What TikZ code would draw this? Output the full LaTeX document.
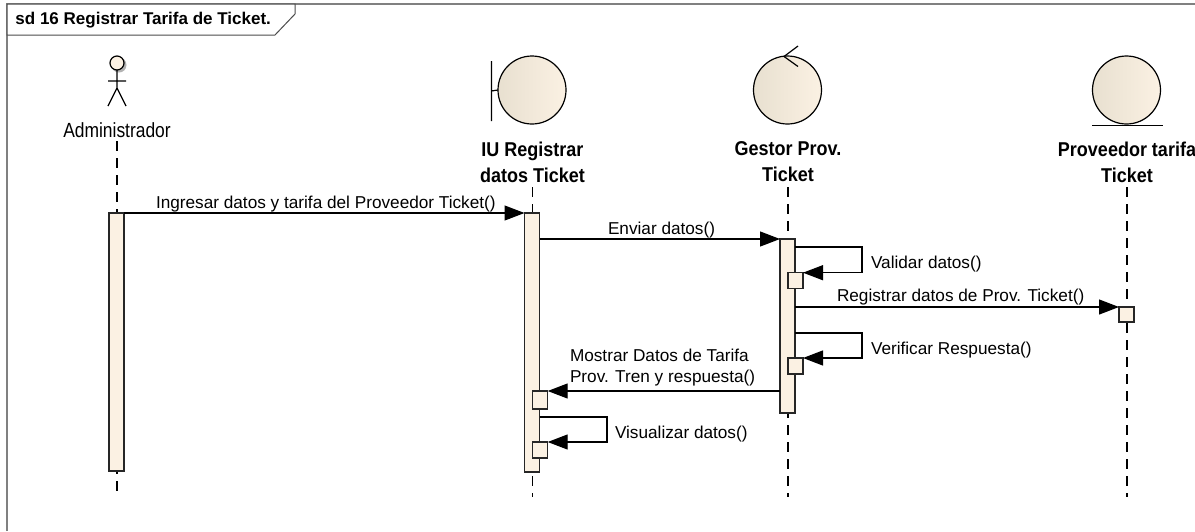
\documentclass[tikz,border=0pt]{standalone}
\usepackage{fontspec}
\setmainfont{Liberation Sans}
\usetikzlibrary{arrows.meta}
\definecolor{act}{HTML}{FBF1E3}
\definecolor{dark}{HTML}{E8E0D0}
\definecolor{framec}{HTML}{808080}
\tikzset{
 x=1pt,y=-1pt,
 every node/.style={inner sep=0pt,outer sep=0pt},
 msgline/.style={line width=1.2pt,black,-{Triangle[length=20pt,width=15pt]},shorten >=0pt},
 plainline/.style={line width=1.2pt,black},
 lifeline/.style={line width=1.2pt,black,dash pattern=on 10pt off 7pt},
 activation/.style={draw=black!85,line width=1.3pt,fill=act,anchor=north west,minimum width=15pt},
 ball/.style={circle,draw=black,line width=1.2pt,minimum size=68pt,left color=dark,right color=act,shading angle=90},
 msg/.style={font=\fontsize{17.2pt}{21pt}\selectfont,align=left},
 objname/.style={font=\fontsize{20pt}{26pt}\selectfont\bfseries,align=center,anchor=north},
}
\begin{document}
\begin{tikzpicture}
\useasboundingbox (0,0) rectangle (1195,531);
\fill[white] (0,0) rectangle (1195,531);
% frame
\draw[framec,line width=1.5pt] (7,531) -- (7,4) -- (1195,4);
\draw[black!70,line width=1pt,fill=white] (7,4) -- (295,4) -- (295,14) -- (275,35) -- (7,35) -- cycle;
\node[anchor=west,font=\fontsize{17pt}{20pt}\selectfont\bfseries] (title) at (15.5,20.5) {sd 16 Registrar Tarifa de Ticket.};
% actor
\fill[black!30] (119,65) circle (7.5);
\node[circle,draw=black,line width=1.2pt,fill=act,minimum size=14pt] (head) at (117,63) {};
\coordinate (hip) at (117,88);
\coordinate (larm) at (108,81);
\coordinate (rarm) at (126,81);
\coordinate (lleg) at (108,106);
\coordinate (rleg) at (126,106);
\draw[plainline] (head.south) -- (hip) (larm) -- (rarm) (lleg) -- (hip) -- (rleg);
\node[font=\fontsize{20.5pt}{24pt}\selectfont,xscale=.85] (adminname) at (117,130.5) {Administrador};
% objects
\node[ball] (iu) at (532,90) {};
\coordinate (barT) at (491.5,61);
\coordinate (barB) at (491.5,121);
\coordinate (barM) at (491.5,91);
\draw[plainline] (barT) -- (barB) (barM) -- (iu.west);
\node[ball] (gestor) at (787.5,90) {};
\coordinate (ctlT) at (798,46);
\coordinate (ctlB) at (798,66.5);
\coordinate (ctlM) at (784,56.5);
\draw[plainline] (ctlT) -- (ctlM) -- (ctlB);
\node[ball] (prov) at (1126.5,90) {};
\coordinate (entL) at (1092,125.7);
\coordinate (entR) at (1162.7,125.7);
\draw[plainline] (entL) -- (entR);
\node[objname,xscale=.9] (iuname) at (532.5,142) {IU Registrar\\datos Ticket};
\node[objname,xscale=.9] (gestorname) at (788,142) {Gestor Prov.\\Ticket};
\node[objname,xscale=.9] (provname) at (1127,142) {Proveedor tarifa\\Ticket};
% lifelines
\coordinate (e1) at (117,497);
\coordinate (e2) at (532.5,497);
\coordinate (e3) at (788,497);
\coordinate (e4) at (1127,497);
\coordinate (s1) at (117,141);
\coordinate (s2) at (532.5,187);
\coordinate (s3) at (788,187);
\coordinate (s4) at (1127,187);
\draw[lifeline] (s1) -- (e1);
\draw[lifeline] (s2) -- (e2);
\draw[lifeline] (s3) -- (e3);
\draw[lifeline] (s4) -- (e4);
% activations
\node[activation,minimum height=258pt] (a1) at (109,213) {};
\node[activation,minimum height=259pt] (a2) at (524.5,213) {};
\node[activation,minimum height=174pt] (a3) at (780,239) {};
\node[activation,minimum height=15pt] (a4) at (1119,307) {};
\node[activation,minimum height=15.5pt] (g1) at (788,272.7) {};
\node[activation,minimum height=16pt] (g2) at (788,358) {};
\node[activation,minimum height=18pt] (i1) at (532.7,391) {};
\node[activation,minimum height=16pt] (i2) at (532.7,442) {};
% messages
\draw[msgline] (a1.north east) -- (a2.north west);
\draw[msgline] (a2.east |- 0,239) -- (a3.north west);
\draw[msgline] (a3.east |- 0,307) -- (a4.north west);
\draw[msgline] (a3.west |- 0,391) -- (i1.north east);
\draw[msgline] (a3.east |- 0,247) -- (862,247) -- (862,272.7) -- (g1.north east);
\draw[msgline] (a3.east |- 0,333) -- (862,333) -- (862,358) -- (g2.north east);
\draw[msgline] (a2.east |- 0,417) -- (607,417) -- (607,442) -- (i2.north east);
% labels
\node[msg,anchor=west] (m1) at (156,204) {Ingresar datos y tarifa del Proveedor Ticket()};
\node[msg,anchor=west] (m2) at (608,230.5) {Enviar datos()};
\node[msg,anchor=west] (m3) at (871,264) {Validar datos()};
\node[msg,anchor=west] (m4) at (837,297.5) {Registrar datos de Prov. Ticket()};
\node[msg,anchor=west] (m5) at (871,350) {Verificar Respuesta()};
\node[msg,anchor=west] (m6) at (570,368) {Mostrar Datos de Tarifa\\Prov. Tren y respuesta()};
\node[msg,anchor=west] (m7) at (615,434) {Visualizar datos()};
\end{tikzpicture}
\end{document}
